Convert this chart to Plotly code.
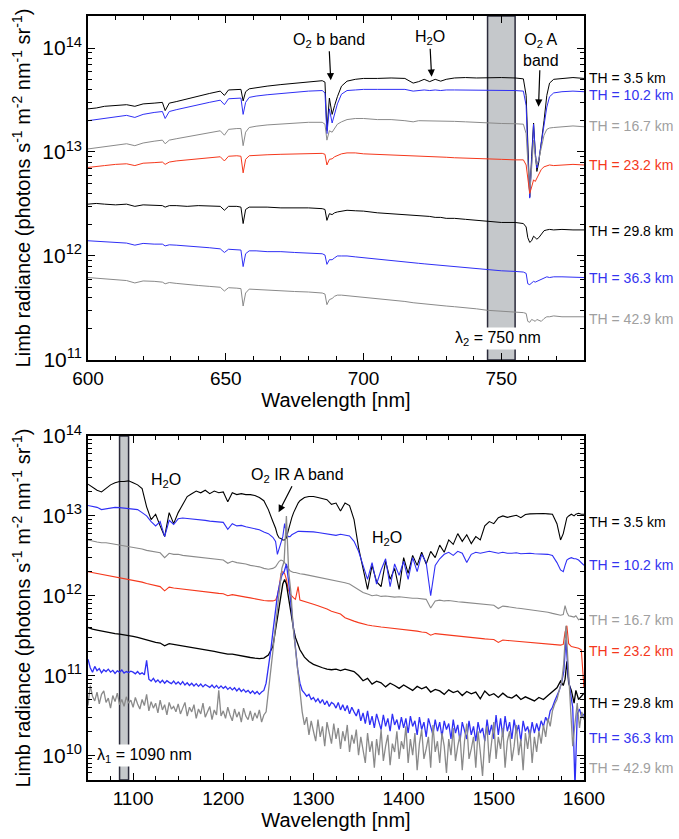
import math
import plotly.graph_objects as go

# ---------------- DATA ----------------
# Top panel: wavelength grid [nm]
WT = [600, 603, 606, 610, 614, 617, 620, 624, 627, 628,
      629.5, 632, 636, 640, 644, 648, 649.5, 651, 654, 655.5,
      656.3, 657.2, 658.5, 661, 665, 670, 675, 680, 685, 686,
      686.7, 687.6, 688.6, 689.5, 690.5, 692, 694, 697, 700, 705,
      710, 715, 718, 720, 722, 724, 726, 728, 730, 733,
      737, 741, 745, 750, 755, 758, 759, 759.6, 760.3, 761,
      761.7, 762.3, 762.9, 763.6, 764.5, 765.5, 766.5, 767.5, 769, 772,
      776, 780]

TOP_TH35 = [2.6e13, 2.65e13, 2.75e13, 2.8e13, 2.85e13, 2.75e13, 2.9e13, 2.95e13, 3.0e13, 2.5e13,
            2.95e13, 3.05e13, 3.25e13, 3.45e13, 3.65e13, 3.85e13, 3.5e13, 3.95e13, 4.0e13, 4.0e13,
            3.1e13, 3.8e13, 4.05e13, 4.15e13, 4.3e13, 4.45e13, 4.6e13, 4.75e13, 4.85e13, 4.7e13,
            1.6e13, 3.3e13, 2.3e13, 2.8e13, 3.4e13, 4.3e13, 4.8e13, 5.0e13, 5.1e13, 5.1e13,
            5.15e13, 5.1e13, 4.6e13, 4.75e13, 5.0e13, 4.75e13, 5.0e13, 4.8e13, 5.0e13, 5.15e13,
            5.2e13, 5.15e13, 5.2e13, 5.2e13, 5.15e13, 5.05e13, 3.5e13, 1.2e13, 3.7e12, 9e12,
            1.9e13, 1.0e13, 6.5e12, 8e12, 1.2e13, 2.0e13, 3.5e13, 4.6e13, 5.0e13, 5.1e13,
            5.2e13, 5.1e13]
TOP_TH102 = [2.0e13, 2.05e13, 2.1e13, 2.2e13, 2.25e13, 2.15e13, 2.3e13, 2.4e13, 2.45e13, 2.1e13,
             2.45e13, 2.55e13, 2.7e13, 2.85e13, 3.0e13, 3.15e13, 2.85e13, 3.25e13, 3.3e13, 3.3e13,
             2.3e13, 3.0e13, 3.35e13, 3.45e13, 3.55e13, 3.65e13, 3.75e13, 3.85e13, 3.9e13, 3.7e13,
             1.5e13, 2.6e13, 1.9e13, 2.3e13, 2.9e13, 3.6e13, 3.9e13, 3.95e13, 4.0e13, 4.0e13,
             4.0e13, 4.0e13, 3.85e13, 3.9e13, 3.95e13, 3.9e13, 3.95e13, 3.9e13, 3.95e13, 3.95e13,
             3.95e13, 3.9e13, 3.95e13, 3.9e13, 3.9e13, 3.85e13, 2.8e13, 1.0e13, 3.6e12, 8e12,
             1.85e13, 1.0e13, 7e12, 8.5e12, 1.2e13, 1.8e13, 2.7e13, 3.4e13, 3.7e13, 3.8e13,
             3.85e13, 3.8e13]
TOP_TH167 = [1.07e13, 1.1e13, 1.13e13, 1.17e13, 1.2e13, 1.15e13, 1.22e13, 1.27e13, 1.3e13, 1.2e13,
             1.3e13, 1.34e13, 1.4e13, 1.47e13, 1.53e13, 1.6e13, 1.45e13, 1.65e13, 1.68e13, 1.68e13,
             1.15e13, 1.55e13, 1.72e13, 1.77e13, 1.82e13, 1.86e13, 1.9e13, 1.93e13, 1.93e13, 1.85e13,
             1.3e13, 1.6e13, 1.55e13, 1.7e13, 1.85e13, 1.95e13, 2.05e13, 2.1e13, 2.1e13, 2.05e13,
             2.05e13, 2.0e13, 1.95e13, 2.0e13, 2.0e13, 1.98e13, 2.0e13, 1.97e13, 1.98e13, 1.97e13,
             1.95e13, 1.92e13, 1.9e13, 1.88e13, 1.87e13, 1.85e13, 1.5e13, 8e12, 4.0e12, 7e12,
             1.3e13, 9e12, 7.5e12, 8.5e12, 1.1e13, 1.45e13, 1.65e13, 1.7e13, 1.72e13, 1.75e13,
             1.78e13, 1.75e13]
TOP_TH232 = [7.1e12, 7.3e12, 7.4e12, 7.6e12, 7.7e12, 7.4e12, 7.8e12, 7.9e12, 8.0e12, 7.6e12,
             8.0e12, 8.2e12, 8.4e12, 8.6e12, 8.8e12, 9.0e12, 8.2e12, 9.1e12, 9.2e12, 9.1e12,
             6.3e12, 8.5e12, 9.2e12, 9.3e12, 9.4e12, 9.5e12, 9.6e12, 9.7e12, 9.7e12, 9.5e12,
             7.5e12, 8.5e12, 8.6e12, 9.0e12, 9.3e12, 9.6e12, 9.8e12, 9.8e12, 9.6e12, 9.5e12,
             9.4e12, 9.3e12, 9.2e12, 9.1e12, 9.1e12, 9.0e12, 9.0e12, 8.9e12, 8.9e12, 8.8e12,
             8.7e12, 8.6e12, 8.5e12, 8.5e12, 8.4e12, 8.4e12, 7.5e12, 5.5e12, 4.0e12, 4.6e12,
             5.4e12, 5.2e12, 5.6e12, 6.2e12, 6.8e12, 7.2e12, 7.4e12, 7.5e12, 7.4e12, 7.5e12,
             7.6e12, 7.5e12]
TOP_TH298 = [3.15e12, 3.2e12, 3.15e12, 3.1e12, 3.15e12, 3.0e12, 3.1e12, 3.1e12, 3.05e12, 2.95e12,
             3.05e12, 3.05e12, 3.0e12, 3.05e12, 3.0e12, 3.0e12, 2.75e12, 3.0e12, 3.0e12, 2.95e12,
             2.05e12, 2.8e12, 2.95e12, 2.95e12, 2.95e12, 2.9e12, 2.9e12, 2.9e12, 2.85e12, 2.8e12,
             2.2e12, 2.55e12, 2.5e12, 2.6e12, 2.65e12, 2.7e12, 2.75e12, 2.72e12, 2.7e12, 2.6e12,
             2.55e12, 2.5e12, 2.45e12, 2.45e12, 2.4e12, 2.4e12, 2.35e12, 2.35e12, 2.3e12, 2.3e12,
             2.25e12, 2.2e12, 2.15e12, 2.1e12, 2.1e12, 2.05e12, 1.9e12, 1.5e12, 1.35e12, 1.4e12,
             1.55e12, 1.5e12, 1.45e12, 1.5e12, 1.6e12, 1.75e12, 1.78e12, 1.8e12, 1.78e12, 1.8e12,
             1.78e12, 1.78e12]
TOP_TH363 = [1.4e12, 1.38e12, 1.36e12, 1.35e12, 1.33e12, 1.27e12, 1.32e12, 1.3e12, 1.3e12, 1.25e12,
             1.28e12, 1.27e12, 1.25e12, 1.22e12, 1.2e12, 1.17e12, 1.08e12, 1.16e12, 1.15e12, 1.14e12,
             7.9e11, 1.05e12, 1.12e12, 1.12e12, 1.1e12, 1.1e12, 1.08e12, 1.07e12, 1.05e12, 1.02e12,
             8.3e11, 9.2e11, 9.2e11, 9.6e11, 1.0e12, 1.0e12, 1.0e12, 9.8e11, 9.6e11, 9.3e11,
             9.0e11, 8.8e11, 8.6e11, 8.5e11, 8.4e11, 8.3e11, 8.2e11, 8.2e11, 8.0e11, 7.9e11,
             7.7e11, 7.5e11, 7.3e11, 7.2e11, 7.1e11, 7.0e11, 6.8e11, 5.4e11, 5.3e11, 5.5e11,
             5.7e11, 5.6e11, 5.7e11, 5.8e11, 6.0e11, 6.2e11, 6.3e11, 6.2e11, 6.3e11, 6.3e11,
             6.2e11, 6.2e11]
TOP_TH429 = [6.2e11, 6.1e11, 6.0e11, 5.9e11, 5.8e11, 5.5e11, 5.75e11, 5.7e11, 5.6e11, 5.4e11,
             5.55e11, 5.45e11, 5.3e11, 5.2e11, 5.1e11, 5.0e11, 4.6e11, 4.95e11, 4.9e11, 4.85e11,
             3.3e11, 4.4e11, 4.8e11, 4.75e11, 4.7e11, 4.6e11, 4.55e11, 4.5e11, 4.4e11, 4.3e11,
             3.4e11, 3.8e11, 3.9e11, 4.1e11, 4.2e11, 4.2e11, 4.15e11, 4.1e11, 4.0e11, 3.9e11,
             3.75e11, 3.65e11, 3.55e11, 3.5e11, 3.45e11, 3.45e11, 3.4e11, 3.35e11, 3.3e11, 3.25e11,
             3.2e11, 3.1e11, 3.0e11, 2.95e11, 2.9e11, 2.85e11, 2.8e11, 2.35e11, 2.3e11, 2.45e11,
             2.4e11, 2.35e11, 2.45e11, 2.4e11, 2.35e11, 2.5e11, 2.6e11, 2.6e11, 2.65e11, 2.6e11,
             2.6e11, 2.6e11]

# Bottom panel: wavelength grid [nm] for the five upper spectra
WB = (list(range(1050, 1256, 5))
      + [1258, 1260, 1262, 1264, 1266, 1268, 1270, 1272, 1274, 1276, 1278, 1280, 1283]
      + list(range(1285, 1571, 5))
      + [1574, 1577, 1579, 1581, 1583, 1586, 1589, 1591, 1594, 1597, 1600])
# finer wavelength grid [nm] for the two noisiest spectra
WBF = [1050 + 2.5 * i for i in range(221)]

BOT_TH35 = [2.5e13, 2.3e13, 2.1e13, 2.0e13, 2.2e13, 2.45e13, 2.6e13, 2.7e13, 2.7e13, 2.75e13,
            2.6e13, 2.45e13, 2.2e13, 1.3e13, 9e12, 1.05e13, 7.5e12, 5.5e12, 1.1e13, 8e12,
            1.1e13, 1.4e13, 1.75e13, 1.9e13, 2.05e13, 1.95e13, 2.1e13, 1.9e13, 2.05e13, 1.95e13,
            2.0e13, 1.5e13, 1.95e13, 1.85e13, 1.9e13, 1.85e13, 1.85e13, 1.8e13, 1.7e13, 1.55e13,
            1.2e13, 8.5e12,
            7e12, 5.8e12, 5.3e12, 5.2e12, 5.0e12, 5.0e12, 5.3e12, 6.5e12, 8e12, 9.5e12, 1.1e13, 1.25e13, 1.45e13,
            1.55e13, 1.7e13, 1.75e13, 1.75e13, 1.7e13, 1.65e13, 1.6e13, 1.4e13, 1.45e13, 1.15e13,
            1.45e13, 1.35e13, 9e12, 4e12, 2.2e12, 1.2e12, 2.4e12, 1.5e12, 1.3e12, 2.7e12,
            1.6e12, 2.2e12, 1.2e12, 3.0e12, 1.9e12, 3.2e12, 2.4e12, 3.5e12, 2.5e12, 3.6e12,
            3.0e12, 4.3e12, 3.5e12, 5.0e12, 4.4e12, 6.0e12, 4.8e12, 5.8e12, 4.5e12, 5.5e12,
            5.0e12, 7.5e12, 8.5e12, 8.0e12, 9.5e12, 1.0e13, 9.6e12, 1.0e13, 1.02e13, 9.5e12,
            1.04e13, 1.06e13, 1.07e13, 1.07e13, 1.07e13, 1.06e13, 1.05e13, 8e12,
            5e12, 6e12, 8e12, 9.5e12, 1.0e13, 1.05e13, 1.0e13, 1.05e13, 1.08e13, 1.05e13, 1.05e13]
BOT_TH102 = [1.35e13, 1.3e13, 1.28e13, 1.2e13, 1.22e13, 1.25e13, 1.28e13, 1.27e13, 1.25e13, 1.24e13,
             1.22e13, 1.2e13, 1.1e13, 1.0e13, 8.5e12, 7.5e12, 8.5e12, 5.5e12, 8.8e12, 7.8e12,
             9.2e12, 9.4e12, 9.3e12, 9.2e12, 9.0e12, 8.9e12, 8.8e12, 8.6e12, 8.5e12, 8.4e12,
             8.3e12, 6.8e12, 8.0e12, 7.5e12, 7.6e12, 7.3e12, 7.1e12, 6.9e12, 6.7e12, 6.3e12,
             6.0e12, 5.4e12,
             4.8e12, 3.3e12, 4.0e12, 4.5e12, 5.5e12, 8e12, 6e12, 5.5e12, 5.5e12, 5.8e12, 6.0e12, 6.2e12, 6.4e12,
             6.4e12, 6.4e12, 6.3e12, 6.3e12, 6.2e12, 6.1e12, 6.0e12, 5.8e12, 5.7e12, 5.9e12,
             5.7e12, 5.6e12, 4.8e12, 3.6e12, 2.4e12, 1.6e12, 2.6e12, 1.4e12, 2.1e12, 2.9e12,
             1.3e12, 2.5e12, 1.8e12, 2.7e12, 1.6e12, 3.0e12, 2.0e12, 3.3e12, 2.6e12, 1.0e12,
             2.4e12, 2.9e12, 3.3e12, 3.5e12, 3.2e12, 3.6e12, 3.4e12, 2.6e12, 3.3e12, 3.5e12,
             3.4e12, 3.5e12, 3.6e12, 3.5e12, 3.4e12, 3.5e12, 3.4e12, 3.4e12, 3.45e12, 3.35e12,
             3.4e12, 3.4e12, 3.35e12, 3.35e12, 3.3e12, 3.3e12, 3.2e12, 2.6e12,
             2.1e12, 2.0e12, 2.4e12, 2.8e12, 2.9e12, 3.0e12, 2.9e12, 2.9e12, 2.8e12, 2.6e12, 2.4e12]
BOT_TH167 = [5.0e12, 4.8e12, 4.7e12, 4.6e12, 4.6e12, 4.5e12, 4.4e12, 4.3e12, 4.25e12, 4.2e12,
             4.1e12, 4.0e12, 3.85e12, 3.7e12, 3.6e12, 3.5e12, 3.45e12, 3.0e12, 3.4e12, 3.3e12,
             3.3e12, 3.2e12, 3.15e12, 3.1e12, 3.05e12, 3.0e12, 2.95e12, 2.9e12, 2.85e12, 2.8e12,
             2.8e12, 2.55e12, 2.7e12, 2.6e12, 2.55e12, 2.5e12, 2.4e12, 2.35e12, 2.3e12, 2.2e12,
             2.15e12, 2.2e12,
             2.3e12, 2.5e12, 2.7e12, 2.8e12, 2.75e12, 2.6e12, 2.4e12, 2.2e12, 2.05e12, 2.0e12, 1.95e12, 1.95e12, 1.9e12,
             1.88e12, 1.85e12, 1.8e12, 1.75e12, 1.72e12, 1.68e12, 1.64e12, 1.6e12, 1.55e12, 1.5e12,
             1.45e12, 1.4e12, 1.3e12, 1.2e12, 1.1e12, 1.05e12, 1.0e12, 1.02e12, 9.8e11, 9.9e11,
             9.7e11, 9.6e11, 9.7e11, 9.5e11, 9.4e11, 9.3e11, 9.3e11, 9.2e11, 9.0e11, 7.0e11,
             8.6e11, 8.8e11, 8.6e11, 8.7e11, 8.5e11, 8.4e11, 8.3e11, 8.2e11, 8.1e11, 8.0e11,
             7.9e11, 7.8e11, 7.7e11, 7.6e11, 6.9e11, 7.4e11, 7.3e11, 7.1e11, 7.0e11, 6.9e11,
             6.8e11, 6.7e11, 6.6e11, 6.5e11, 6.4e11, 6.2e11, 6.0e11, 5.9e11,
             5.7e11, 5.8e11, 7.5e11, 6.2e11, 5.6e11, 5.5e11, 5.4e11, 5.6e11, 5.0e11, 5.2e11, 5.0e11]
BOT_TH232 = [2.0e12, 1.95e12, 1.9e12, 1.85e12, 1.8e12, 1.75e12, 1.7e12, 1.66e12, 1.62e12, 1.6e12,
             1.57e12, 1.53e12, 1.48e12, 1.42e12, 1.38e12, 1.33e12, 1.3e12, 1.15e12, 1.28e12, 1.25e12,
             1.23e12, 1.2e12, 1.18e12, 1.16e12, 1.14e12, 1.12e12, 1.1e12, 1.09e12, 1.08e12, 1.07e12,
             1.06e12, 1.0e12, 1.03e12, 1.0e12, 9.8e11, 9.6e11, 9.4e11, 9.1e11, 8.9e11, 8.7e11,
             8.6e11, 8.6e11,
             8.8e11, 1.0e12, 1.3e12, 1.9e12, 2.0e12, 1.9e12, 1.6e12, 1.2e12, 1.05e12, 9.8e11, 9.4e11, 9.0e11, 1.3e12,
             8.8e11, 8.4e11, 8.1e11, 7.8e11, 7.5e11, 7.2e11, 6.8e11, 6.4e11, 6.1e11, 5.9e11,
             5.3e11, 5.0e11, 4.8e11, 4.6e11, 4.4e11, 4.3e11, 4.2e11, 4.1e11, 4.05e11, 4.0e11,
             3.95e11, 3.9e11, 3.85e11, 3.75e11, 3.7e11, 3.65e11, 3.6e11, 3.5e11, 3.45e11, 3.2e11,
             3.35e11, 3.3e11, 3.25e11, 3.2e11, 3.15e11, 3.1e11, 3.08e11, 3.05e11, 3.0e11, 2.95e11,
             2.9e11, 2.88e11, 2.85e11, 2.82e11, 2.6e11, 2.78e11, 2.75e11, 2.72e11, 2.7e11, 2.68e11,
             2.66e11, 2.64e11, 2.6e11, 2.56e11, 2.52e11, 2.48e11, 2.45e11, 2.42e11,
             2.4e11, 2.45e11, 3.5e11, 4.2e11, 2.5e11, 2.3e11, 2.25e11, 2.2e11, 2.2e11, 2.1e11, 7e10]
BOT_TH298 = [4.0e11, 3.8e11, 3.7e11, 3.6e11, 3.5e11, 3.4e11, 3.35e11, 3.3e11, 3.25e11, 3.2e11,
             3.1e11, 3.0e11, 2.9e11, 2.75e11, 2.7e11, 2.6e11, 2.55e11, 2.35e11, 2.5e11, 2.45e11,
             2.4e11, 2.35e11, 2.3e11, 2.25e11, 2.2e11, 2.15e11, 2.1e11, 2.05e11, 2.0e11, 1.95e11,
             1.9e11, 1.85e11, 1.85e11, 1.8e11, 1.75e11, 1.72e11, 1.68e11, 1.65e11, 1.63e11, 1.65e11,
             1.8e11, 2.3e11,
             3.8e11, 5e11, 7e11, 1.0e12, 1.4e12, 1.6e12, 1.4e12, 1.0e12, 7e11, 5e11, 3.8e11, 3.0e11, 2.4e11,
             2.1e11, 1.7e11, 1.5e11, 1.38e11, 1.3e11, 1.25e11, 1.2e11, 1.18e11, 1.2e11, 1.15e11,
             1.2e11, 1.15e11, 1.12e11, 1.0e11, 8.6e10, 9.2e10, 7.8e10, 8.5e10, 8.1e10, 7.2e10,
             8.0e10, 7.5e10, 6.9e10, 7.6e10, 7.1e10, 6.5e10, 7.3e10, 6.8e10, 7.2e10, 6.2e10,
             6.7e10, 6.4e10, 5.8e10, 6.6e10, 6.1e10, 6.4e10, 5.6e10, 6.3e10, 5.9e10, 6.2e10,
             5.1e10, 6.4e10, 5.6e10, 5.9e10, 5.3e10, 6.0e10, 5.4e10, 5.2e10, 5.7e10, 5.0e10,
             5.4e10, 5.1e10, 4.8e10, 5.3e10, 5.0e10, 5.6e10, 6.2e10, 7.0e10,
             8.5e10, 7.5e10, 9e10, 1.5e11, 8e10, 6.5e10, 4.5e10, 6.5e10, 5e10, 5.5e10, 6e10]
BOT_TH363 = [1.6e11, 1.25e11, 1.1e11, 1.3e11, 1.15e11, 1.22e11, 1.08e11, 1.18e11, 1.12e11, 1.2e11,
             1.1e11, 1.16e11, 1.06e11, 1.14e11, 1.1e11, 1.17e11, 1.07e11, 1.12e11, 1.09e11, 1.13e11,
             1.1e11, 1.05e11, 1.12e11, 1.04e11, 1.08e11, 1.02e11, 1.55e11, 9.0e10, 8.5e10, 9.2e10,
             8.3e10, 8.8e10, 8.1e10, 8.7e10, 8.0e10, 8.6e10, 8.2e10, 7.9e10, 8.5e10, 7.8e10,
             8.3e10, 7.7e10, 8.4e10, 7.6e10, 8.1e10, 7.5e10, 8.0e10, 7.4e10, 7.9e10, 7.3e10,
             7.8e10, 7.2e10, 7.7e10, 7.4e10, 7.1e10, 7.6e10, 7.0e10, 7.5e10, 6.9e10, 7.4e10,
             6.9e10, 7.3e10, 6.7e10, 7.1e10, 6.6e10, 7.0e10, 6.4e10, 6.9e10, 6.3e10, 6.7e10,
             6.2e10, 6.5e10, 6.0e10, 6.4e10, 5.9e10, 6.3e10, 5.8e10, 6.2e10, 6.5e10, 8.0e10,
             1.2e11, 2.0e11, 3.5e11, 6e11, 1.0e12, 1.4e12, 1.8e12, 2.0e12, 2.5e12, 1.5e12,
             8e11, 4e11, 2e11, 1.2e11, 8e10, 6.5e10, 6.0e10, 5.5e10, 5.8e10, 5.0e10,
             5.3e10, 4.7e10, 5.1e10, 4.5e10, 5.0e10, 4.3e10, 4.8e10, 4.1e10, 4.6e10, 4.4e10,
             3.9e10, 4.6e10, 3.7e10, 4.3e10, 3.6e10, 4.2e10, 3.3e10, 4.0e10, 3.5e10, 3.1e10,
             3.8e10, 2.7e10, 3.4e10, 2.5e10, 3.6e10, 2.4e10, 3.1e10, 2.2e10, 3.3e10, 2.6e10,
             2.1e10, 3.2e10, 2.3e10, 2.9e10, 2.0e10, 3.3e10, 2.4e10, 2.8e10, 2.1e10, 3.0e10,
             2.2e10, 2.9e10, 1.9e10, 3.1e10, 2.3e10, 2.7e10, 1.8e10, 3.0e10, 2.1e10, 2.6e10,
             1.7e10, 2.9e10, 2.2e10, 1.8e10, 2.8e10, 2.0e10, 2.6e10, 1.7e10, 2.7e10, 2.1e10,
             2.5e10, 1.6e10, 2.8e10, 1.9e10, 2.4e10, 1.5e10, 2.6e10, 2.0e10, 1.6e10, 2.7e10,
             1.8e10, 2.3e10, 1.5e10, 2.6e10, 1.9e10, 2.2e10, 1.5e10, 2.8e10, 1.8e10, 2.4e10,
             1.6e10, 3.2e10, 1.8e10, 2.9e10, 1.7e10, 3.1e10, 2.0e10, 2.6e10, 1.6e10, 2.8e10,
             1.9e10, 2.4e10, 1.5e10, 2.7e10, 2.0e10, 2.3e10, 1.7e10, 2.6e10, 1.9e10, 2.5e10,
             2.0e10, 2.7e10, 2.3e10, 3.0e10, 2.6e10, 3.6e10, 4.0e10, 4.8e10, 5.5e10, 6.5e10,
             8e10, 1.1e11, 2.8e11, 1.0e11, 6e10, 4e10, 4e9, 3.3e10, 3.8e10, 3.0e10,
             3.3e10]
BOT_TH429 = [4.2e10, 7.5e10, 5.5e10, 4.8e10, 6.2e10, 4.4e10, 5.8e10, 6.4e10, 4.6e10, 5.2e10,
             3.9e10, 5.6e10, 4.7e10, 6.0e10, 4.3e10, 5.0e10, 4.1e10, 5.4e10, 4.5e10, 4.9e10,
             4.0e10, 5.3e10, 4.4e10, 3.8e10, 5.0e10, 4.2e10, 5.8e10, 3.6e10, 4.7e10, 3.9e10,
             4.5e10, 3.4e10, 4.9e10, 3.7e10, 4.3e10, 3.2e10, 4.6e10, 3.8e10, 4.1e10, 3.5e10,
             4.4e10, 3.3e10, 3.9e10, 4.6e10, 3.1e10, 4.0e10, 3.5e10, 4.3e10, 2.9e10, 3.8e10,
             3.3e10, 4.5e10, 3.0e10, 3.6e10, 4.1e10, 2.8e10, 3.7e10, 3.2e10, 6.5e10, 3.1e10,
             3.6e10, 2.9e10, 4.0e10, 3.2e10, 2.7e10, 3.8e10, 3.0e10, 3.5e10, 2.6e10, 3.9e10,
             3.1e10, 2.8e10, 3.6e10, 2.7e10, 3.4e10, 2.9e10, 3.7e10, 2.6e10, 3.2e10, 3.5e10,
             6e10, 1.0e11, 2.0e11, 3.8e11, 7e11, 1.3e12, 2.2e12, 2.7e12, 1.0e13, 2.0e12,
             1.1e12, 4e11, 2.2e11, 1.1e11, 6e10, 3.5e10, 2.4e10, 3.0e10, 1.8e10, 2.7e10,
             2.0e10, 1.5e10, 2.8e10, 1.7e10, 2.3e10, 1.3e10, 2.6e10, 1.9e10, 1.4e10, 2.5e10,
             1.6e10, 2.2e10, 1.2e10, 2.0e10, 1.5e10, 2.4e10, 1.1e10, 1.8e10, 1.4e10, 2.1e10,
             1.0e10, 1.7e10, 1.2e10, 8e9, 1.9e10, 1.1e10, 1.5e10, 7e9, 1.6e10, 1.0e10,
             2.1e10, 8.5e9, 1.3e10, 1.8e10, 7.5e9, 1.4e10, 1.1e10, 2.0e10, 9e9, 1.5e10,
             1.2e10, 2.3e10, 8e9, 1.6e10, 1.0e10, 1.9e10, 6.5e9, 1.4e10, 2.1e10, 9e9,
             1.2e10, 1.7e10, 7e9, 2.4e10, 1.1e10, 1.5e10, 8e9, 1.9e10, 1.3e10, 6e9,
             1.6e10, 1.0e10, 2.2e10, 8.5e9, 1.3e10, 1.8e10, 6.5e9, 1.5e10, 2.5e10, 9e9,
             1.2e10, 1.7e10, 7e9, 2.0e10, 1.1e10, 5.5e9, 1.6e10, 2.3e10, 8e9, 1.4e10,
             2.6e10, 9e9, 1.7e10, 1.2e10, 2.2e10, 7e9, 1.5e10, 2.0e10, 8.5e9, 1.3e10,
             2.4e10, 1.0e10, 1.6e10, 6.5e9, 1.9e10, 1.2e10, 2.1e10, 8e9, 1.7e10, 1.1e10,
             2.0e10, 1.4e10, 2.4e10, 1.7e10, 2.9e10, 2.3e10, 3.6e10, 4.4e10, 5.0e10, 6.5e10,
             8e10, 1.4e11, 4.2e11, 1.3e11, 4e10, 1.3e10, 2.5e10, 4.5e10, 2.2e10, 3.5e10,
             2.8e10]

LABELS = ["TH = 3.5 km", "TH = 10.2 km", "TH = 16.7 km", "TH = 23.2 km",
          "TH = 29.8 km", "TH = 36.3 km", "TH = 42.9 km"]
# label anchor radiances at right edge
LABEL_Y_TOP = [5.1e13, 3.53e13, 1.78e13, 7.5e12, 1.75e12, 6.1e11, 2.5e11]
LABEL_Y_BOT = [8.5e12, 2.4e12, 5.0e11, 2.0e11, 4.5e10, 1.67e10, 7.0e9]

TOP_SERIES = [TOP_TH35, TOP_TH102, TOP_TH167, TOP_TH232, TOP_TH298, TOP_TH363, TOP_TH429]
BOT_SERIES = [(WB, BOT_TH35), (WB, BOT_TH102), (WB, BOT_TH167), (WB, BOT_TH232),
              (WB, BOT_TH298), (WBF, BOT_TH363), (WBF, BOT_TH429)]

for s in TOP_SERIES:
    assert len(s) == len(WT), len(s)
for xs, s in BOT_SERIES:
    assert len(s) == len(xs), len(s)

# ---------------- STYLE ----------------
FONT = "Liberation Sans, Arial, Helvetica, sans-serif"
LINE_COLORS = ["#000000", "#2f2ff5", "#8a8a8a", "#f5381c", "#000000", "#2f2ff5", "#8a8a8a"]
TEXT_COLORS = ["#000000", "#3434f0", "#a0a0a0", "#f5381c", "#000000", "#3434f0", "#a0a0a0"]
BOT_WIDTHS = [1.1, 1.1, 1.1, 1.1, 1.3, 1.3, 1.3]

fig = go.Figure()
for vals, col in zip(TOP_SERIES, LINE_COLORS):
    fig.add_trace(go.Scatter(x=WT, y=vals, mode="lines", line=dict(color=col, width=1.0),
                             xaxis="x", yaxis="y", showlegend=False, hoverinfo="skip"))
for (xs, vals), col, w in zip(BOT_SERIES, LINE_COLORS, BOT_WIDTHS):
    fig.add_trace(go.Scatter(x=xs, y=vals, mode="lines", line=dict(color=col, width=w),
                             xaxis="x2", yaxis="y2", showlegend=False, hoverinfo="skip"))

ytitle = "Limb radiance (photons s<sup>-1</sup> m<sup>-2</sup> nm<sup>-1</sup> sr<sup>-1</sup>)"

minor_top = [k * 10 ** e for e in (11, 12, 13, 14) for k in range(2, 10) if k * 10 ** e <= 2.0e14]
minor_bot = [k * 10 ** e for e in (9, 10, 11, 12, 13) for k in range(2, 10) if k * 10 ** e >= 5e9]

axis_common = dict(showline=True, linecolor="black", linewidth=1.5, mirror="allticks",
                   ticks="inside", ticklen=7, tickwidth=1, tickcolor="black",
                   showgrid=False, zeroline=False, automargin=False)

fig.update_layout(
    width=679, height=839,
    margin=dict(l=88, r=95, t=16, b=59, autoexpand=False),
    paper_bgcolor="white", plot_bgcolor="white", showlegend=False,
    font=dict(family=FONT, color="black"),
    xaxis=dict(axis_common, anchor="y", domain=[0, 1], range=[600, 780], tick0=600, dtick=50,
               tickfont=dict(size=19),
               title=dict(text="Wavelength [nm]", font=dict(size=20), standoff=4),
               minor=dict(tick0=600, dtick=10, ticks="inside", ticklen=4, tickcolor="black", showgrid=False)),
    yaxis=dict(axis_common, anchor="x", domain=[0.5497, 1], type="log", range=[10.999, 14.308],
               tickmode="array", tickvals=[1e11, 1e12, 1e13, 1e14],
               ticktext=["10<sup>11</sup>", "10<sup>12</sup>", "10<sup>13</sup>", "10<sup>14</sup>"],
               tickfont=dict(size=21),
               title=dict(text=ytitle, font=dict(size=20), standoff=6),
               minor=dict(tickmode="array", tickvals=minor_top, ticks="inside", ticklen=4,
                          tickcolor="black", showgrid=False)),
    xaxis2=dict(axis_common, anchor="y2", domain=[0, 1], range=[1050, 1600], tick0=1000, dtick=100,
                tickfont=dict(size=19),
                title=dict(text="Wavelength [nm]", font=dict(size=20), standoff=4),
                minor=dict(tick0=1000, dtick=25, ticks="inside", ticklen=4, tickcolor="black", showgrid=False)),
    yaxis2=dict(axis_common, anchor="x2", domain=[0, 0.4503], type="log", range=[9.69, 14.002],
                tickmode="array", tickvals=[1e10, 1e11, 1e12, 1e13, 1e14],
                ticktext=["10<sup>10</sup>", "10<sup>11</sup>", "10<sup>12</sup>", "10<sup>13</sup>", "10<sup>14</sup>"],
                tickfont=dict(size=21),
                title=dict(text=ytitle, font=dict(size=20), standoff=6),
                minor=dict(tickmode="array", tickvals=minor_bot, ticks="inside", ticklen=4,
                           tickcolor="black", showgrid=False)),
)

# shaded reference-wavelength bands
fig.add_shape(type="rect", xref="x", yref="y domain", x0=745, x1=755, y0=0, y1=1,
              fillcolor="#c5c8cb", line=dict(color="#2a2a3a", width=1.5), layer="below")
fig.add_shape(type="rect", xref="x2", yref="y2 domain", x0=1085, x1=1095, y0=0, y1=1,
              fillcolor="#c5c8cb", line=dict(color="#2a2a3a", width=1.5), layer="below")

# right-hand labels
for txt, yv, col in zip(LABELS, LABEL_Y_TOP, TEXT_COLORS):
    fig.add_annotation(text=txt, xref="x domain", yref="y", x=1.006, y=math.log10(yv),
                       xanchor="left", yanchor="middle", showarrow=False,
                       font=dict(size=14, color=col, family=FONT))
for txt, yv, col in zip(LABELS, LABEL_Y_BOT, TEXT_COLORS):
    fig.add_annotation(text=txt, xref="x2 domain", yref="y2", x=1.006, y=math.log10(yv),
                       xanchor="left", yanchor="middle", showarrow=False,
                       font=dict(size=14, color=col, family=FONT))

afont = dict(size=16, color="black", family=FONT)
# top panel feature annotations
fig.add_annotation(text="O<sub>2</sub> b band", xref="x", yref="y", x=688.1, y=13.69,
                   ax=-2, ay=-40, showarrow=True, arrowhead=2, arrowsize=1.2, arrowwidth=1.2,
                   arrowcolor="black", font=afont, standoff=0)
fig.add_annotation(text="H<sub>2</sub>O", xref="x", yref="y", x=724.7, y=13.724,
                   ax=-2, ay=-39, showarrow=True, arrowhead=2, arrowsize=1.2, arrowwidth=1.2,
                   arrowcolor="black", font=afont, standoff=0)
fig.add_annotation(text="O<sub>2</sub> A<br>band", xref="x", yref="y", x=763.5, y=13.436,
                   ax=2, ay=-57, showarrow=True, arrowhead=2, arrowsize=1.2, arrowwidth=1.2,
                   arrowcolor="black", font=afont, standoff=0)
fig.add_annotation(text="λ<sub>2</sub> = 750 nm", xref="x", yref="y", x=748.7, y=11.21,
                   showarrow=False, bgcolor="white", font=afont)

# bottom panel feature annotations
fig.add_annotation(text="H<sub>2</sub>O", xref="x2", yref="y2", x=1137, y=13.444,
                   showarrow=False, font=afont)
fig.add_annotation(text="O<sub>2</sub> IR A band", xref="x2", yref="y2", x=1261.4, y=13.046,
                   ax=19, ay=-37, showarrow=True, arrowhead=2, arrowsize=1.2, arrowwidth=1.2,
                   arrowcolor="black", font=afont, standoff=0)
fig.add_annotation(text="H<sub>2</sub>O", xref="x2", yref="y2", x=1381, y=12.716,
                   showarrow=False, font=afont)
fig.add_annotation(text="λ<sub>1</sub> = 1090 nm", xref="x2", yref="y2", x=1058, y=10.0,
                   xanchor="left", showarrow=False, bgcolor="white", font=afont)

fig.write_html("out.html", config={"displayModeBar": False},
               post_script="document.body.style.margin='0px';document.body.style.overflow='hidden';")
